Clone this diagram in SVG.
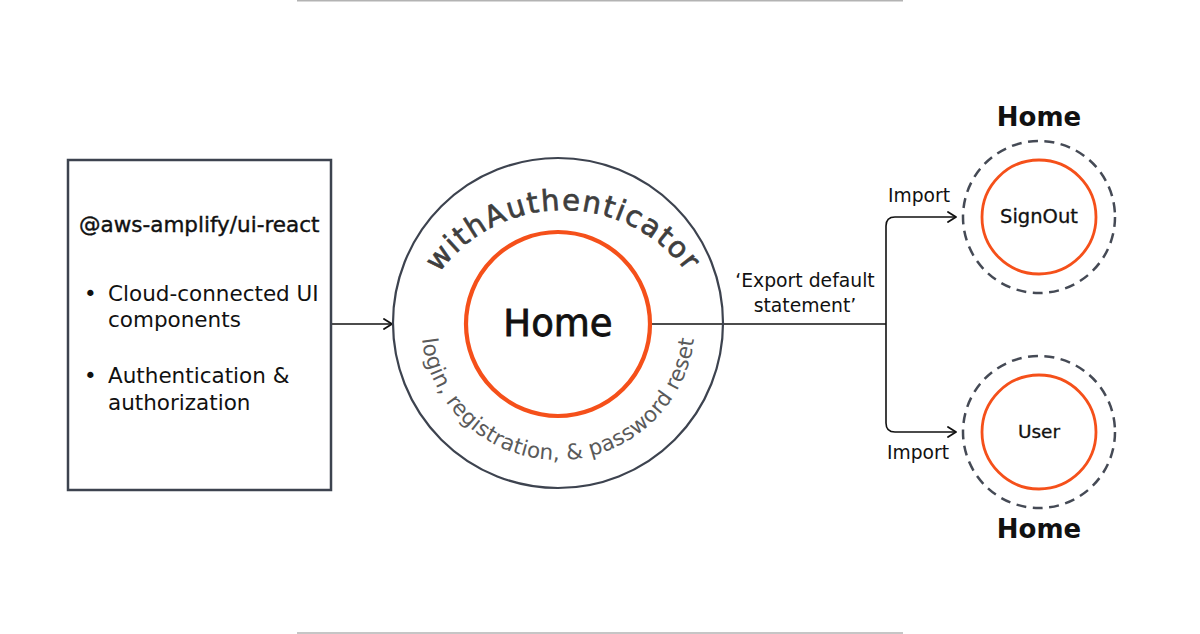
<svg xmlns="http://www.w3.org/2000/svg" width="1200" height="634" viewBox="0 0 1200 634">
  <style>
    .t { font-family: "DejaVu Sans", "Liberation Sans", sans-serif; fill: #111; }
    .box { fill: #fff; stroke: #3d434f; stroke-width: 2.5; }
    .ring { fill: none; stroke: #3d434f; stroke-width: 2.2; }
    .orange { fill: none; stroke: #F5501A; }
    .dash { fill: none; stroke: #454a55; stroke-width: 2.5; stroke-dasharray: 10 6.5; }
    .conn { fill: none; stroke: #111; stroke-width: 1.6; }
    .rule { stroke: #b3b3b3; stroke-width: 1.5; }
  </style>
  <defs>
    <marker id="chev" viewBox="0 0 10 12" markerWidth="10" markerHeight="12" refX="9" refY="6" orient="auto" markerUnits="userSpaceOnUse">
      <path d="M1,1 L9,6 L1,11" fill="none" stroke="#111" stroke-width="1.8" stroke-linecap="round" stroke-linejoin="round"/>
    </marker>
    <path id="arcTop" d="M 410,363 A 153 153 0 0 1 716,363"/>
    <path id="arcBottom" d="M 421,323 A 137 137 0 0 0 695,323"/>
  </defs>
  <rect width="1200" height="634" fill="#fff"/>
  <line class="rule" x1="297" y1="0.75" x2="903" y2="0.75"/>
  <line class="rule" x1="297" y1="633" x2="903" y2="633"/>

  <g id="connectors">
    <path class="conn" d="M 331,324 H 392" marker-end="url(#chev)"/>
    <path class="conn" d="M 652,324 H 886"/>
    <path class="conn" d="M 886,324 V 226 Q 886,217 895,217 H 956" marker-end="url(#chev)"/>
    <path class="conn" d="M 886,324 V 423 Q 886,432 895,432 H 956" marker-end="url(#chev)"/>
    <text class="t" x="805" y="287" font-size="18.8" text-anchor="middle">‘Export default</text>
    <text class="t" x="805" y="312" font-size="18.8" text-anchor="middle">statement’</text>
    <text class="t" x="919" y="202" font-size="18.7" text-anchor="middle">Import</text>
    <text class="t" x="918" y="459" font-size="18.7" text-anchor="middle">Import</text>
  </g>

  <g id="ui-react">
    <rect class="box" x="68" y="160" width="263" height="330"/>
    <text class="t" x="79" y="232" font-size="21.5" stroke="#111" stroke-width="0.4">@aws-amplify/ui-react</text>
    <text class="t" x="84" y="301" font-size="21.5">•</text>
    <text class="t" x="108" y="301" font-size="21.5">Cloud-connected UI</text>
    <text class="t" x="108" y="327" font-size="21.5">components</text>
    <text class="t" x="84" y="383" font-size="21.5">•</text>
    <text class="t" x="108" y="383" font-size="21.5">Authentication &amp;</text>
    <text class="t" x="108" y="410" font-size="21.5">authorization</text>
  </g>

  <g id="withAuthenticator">
    <circle class="ring" cx="558" cy="323" r="165"/>
    <text class="t" font-size="29" stroke="#3e3e3e" stroke-width="0.7" letter-spacing="1.7" style="fill:#3e3e3e">
      <textPath href="#arcTop" startOffset="50%" text-anchor="middle">withAuthenticator</textPath>
    </text>
    <text class="t" font-size="21.5" letter-spacing="0.2" style="fill:#5a5a5a">
      <textPath href="#arcBottom" startOffset="50%" text-anchor="middle">login, registration, &amp; password reset</textPath>
    </text>
  </g>

  <g id="home-center">
    <circle class="orange" cx="558" cy="324" r="92" stroke-width="4.2"/>
    <text class="t" x="558" y="336" font-size="37" text-anchor="middle" stroke="#111" stroke-width="0.8">Home</text>
  </g>

  <g id="home-signout">
    <text class="t" x="1039" y="126" font-size="26" font-weight="bold" text-anchor="middle">Home</text>
    <circle class="dash" cx="1039" cy="217" r="76"/>
    <circle class="orange" cx="1039" cy="217" r="57" stroke-width="2.8"/>
    <text class="t" x="1039" y="223" font-size="19.5" text-anchor="middle" stroke="#111" stroke-width="0.3">SignOut</text>
  </g>

  <g id="home-user">
    <circle class="dash" cx="1039" cy="432" r="76"/>
    <circle class="orange" cx="1039" cy="432" r="57" stroke-width="2.8"/>
    <text class="t" x="1039" y="438" font-size="18.5" text-anchor="middle" stroke="#111" stroke-width="0.3">User</text>
    <text class="t" x="1039" y="538" font-size="26" font-weight="bold" text-anchor="middle">Home</text>
  </g>
</svg>
